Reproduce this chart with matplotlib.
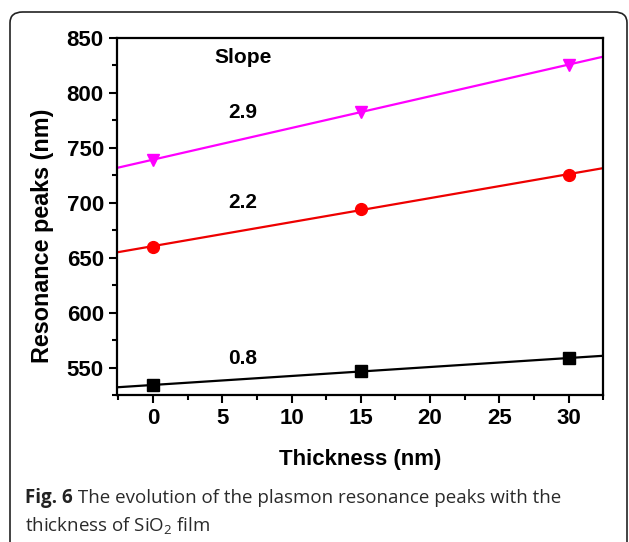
import numpy as np
import matplotlib.pyplot as plt
from matplotlib.patches import FancyBboxPatch
from matplotlib.ticker import MultipleLocator

plt.rcParams['font.family'] = ['Liberation Sans', 'DejaVu Sans']
plt.rcParams['font.weight'] = 'bold'
plt.rcParams['mathtext.default'] = 'regular'

thickness = [0, 15, 30]
peaks_top = [739, 783, 825.5]
peaks_mid = [660, 694.5, 725.5]
peaks_low = [534, 547, 558.5]
slope_labels = ['2.9', '2.2', '0.8']
label_y = [782, 700, 558]

fig = plt.figure(figsize=(6.29, 5.42), dpi=100)
ax = fig.add_axes([0.186, 0.271, 0.773, 0.659])

xlim = (-2.6, 32.5)
xfit = np.array(xlim)
series = [
    (peaks_top, '#ff00ff', 'v'),
    (peaks_mid, '#ee0000', 'o'),
    (peaks_low, 'black', 's'),
]
for vals, color, marker in series:
    k, b = np.polyfit(thickness, vals, 1)
    ax.plot(xfit, k * xfit + b, color=color, lw=1.6)
    mc = '#ff0000' if marker == 'o' else color
    ax.plot(thickness, vals, linestyle='none', marker=marker, color=mc,
            markersize=8.5)

ax.text(6.5, 832, 'Slope', ha='center', va='center', fontsize=15,
        fontweight='bold')
for lab, yy in zip(slope_labels, label_y):
    ax.text(6.5, yy, lab, ha='center', va='center', fontsize=15,
            fontweight='bold')

ax.set_xlim(*xlim)
ax.set_ylim(525, 850)
ax.xaxis.set_major_locator(MultipleLocator(5))
ax.xaxis.set_minor_locator(MultipleLocator(2.5))
ax.yaxis.set_major_locator(MultipleLocator(50))
ax.yaxis.set_minor_locator(MultipleLocator(25))
ax.tick_params(which='both', direction='out', width=1.5, labelsize=16,
               top=False, right=False)
ax.tick_params(which='major', length=6)
ax.tick_params(which='minor', length=3.5)
for s in ax.spines.values():
    s.set_linewidth(1.6)

ax.set_xlabel('Thickness (nm)', fontsize=16, fontweight='bold', labelpad=14)
ax.set_ylabel('Resonance peaks (nm)', fontsize=16.8, fontweight='bold')
ax.yaxis.set_label_coords(-0.130, 0.445)

# rounded frame around figure + caption
frame = FancyBboxPatch((10 / 629, -0.05), 617 / 629, (542 - 12) / 542 + 0.05,
                       boxstyle='round,pad=0,rounding_size=0.02',
                       transform=fig.transFigure, fill=False,
                       edgecolor='#222222', lw=1.2)
fig.patches.append(frame)

cap_font = ['Open Sans', 'DejaVu Sans']
t1 = fig.text(25 / 629, 1 - 498 / 542, 'Fig. 6', fontsize=13.5,
              weight='bold', family=cap_font, va='center', color='#222222')
ax.annotate(' The evolution of the plasmon resonance peaks with the',
            xy=(1, 0.5), xycoords=t1, va='center', ha='left',
            fontsize=13.5, weight='normal', family=cap_font, color='#2a2a2a')
fig.text(25 / 629, 1 - 525 / 542, 'thickness of SiO$_2$ film', fontsize=13.5,
         weight='normal', family=cap_font, va='center', color='#2a2a2a')

fig.savefig('out.png', dpi=100)
